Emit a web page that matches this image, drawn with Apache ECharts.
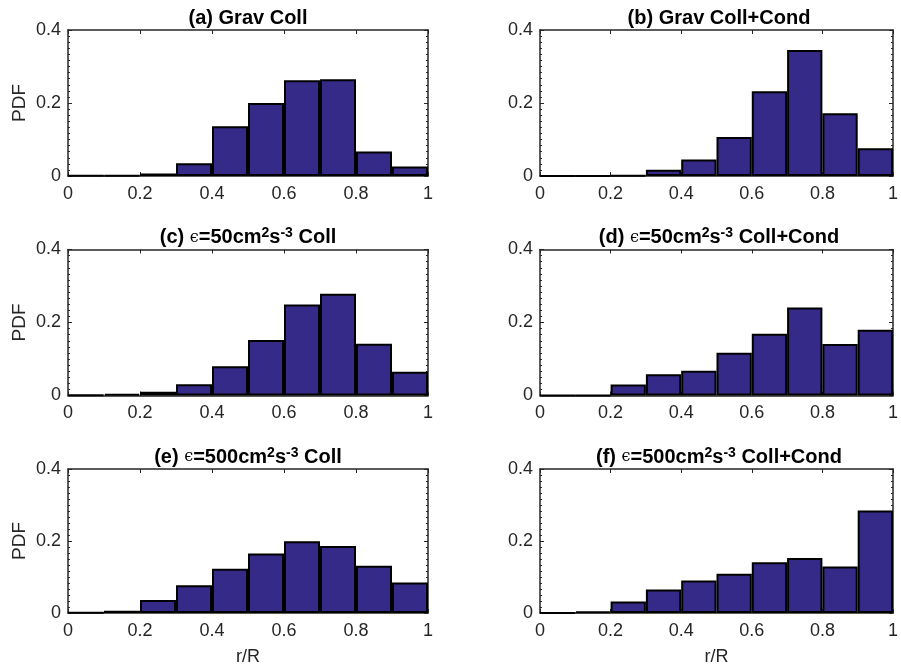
<!DOCTYPE html>
<html>
<head>
<meta charset="utf-8">
<script src="https://cdn.jsdelivr.net/npm/echarts@6/dist/echarts.min.js"></script>
<style>
  html, body { margin: 0; padding: 0; background: #fff; }
  #chart { width: 901px; height: 667px; }
</style>
</head>
<body>
<div id="chart"></div>
<script>
// r/R bins, width 0.1
const bins = ['0-0.1', '0.1-0.2', '0.2-0.3', '0.3-0.4', '0.4-0.5',
              '0.5-0.6', '0.6-0.7', '0.7-0.8', '0.8-0.9', '0.9-1'];

// PDF values
const gravColl      = [0.001, 0.002, 0.007, 0.035, 0.136, 0.200, 0.262, 0.265, 0.067, 0.026];
const gravCollCond  = [0, 0, 0.002, 0.017, 0.045, 0.107, 0.232, 0.345, 0.172, 0.076];
const eps50Coll     = [0.002, 0.004, 0.010, 0.031, 0.080, 0.152, 0.249, 0.279, 0.142, 0.065];
const eps50CollCond = [0, 0, 0.030, 0.058, 0.068, 0.117, 0.169, 0.241, 0.141, 0.180];
const eps500Coll    = [0.001, 0.006, 0.036, 0.077, 0.123, 0.165, 0.199, 0.186, 0.131, 0.085];
const eps500CollCond= [0, 0.004, 0.032, 0.065, 0.090, 0.109, 0.141, 0.153, 0.129, 0.285];

const titles = [
  '(a) Grav Coll',
  '(b) Grav Coll+Cond',
  '(c) {e|\u03f5}=50cm{s|2}s{s|-3} Coll',
  '(d) {e|\u03f5}=50cm{s|2}s{s|-3} Coll+Cond',
  '(e) {e|\u03f5}=500cm{s|2}s{s|-3} Coll',
  '(f) {e|\u03f5}=500cm{s|2}s{s|-3} Coll+Cond'
];
const panels = [gravColl, gravCollCond, eps50Coll, eps50CollCond, eps500Coll, eps500CollCond];

const colLeft = [68, 540];
const colWidth = [360, 358];
const rowTop = [30, 249.5, 469];
const rowHeight = [146, 146, 145];

const axisColor = '#262626';
const barColor = '#352a87';
const font = 'Liberation Sans, Arial, Helvetica, sans-serif';

const grid = [], xAxis = [], yAxis = [], series = [], title = [];

panels.forEach(function (vals, i) {
  const col = i % 2, row = Math.floor(i / 2);
  grid.push({ left: colLeft[col], top: rowTop[row], width: colWidth[col], height: rowHeight[row] });

  // hidden category axis carrying the bins
  xAxis.push({ gridIndex: i, type: 'category', data: bins, show: false, boundaryGap: true });
  // visible r/R value axis (bottom)
  xAxis.push({
    gridIndex: i, type: 'value', min: 0, max: 1, interval: 0.2, position: 'bottom',
    axisLine: { onZero: false, lineStyle: { color: axisColor, width: 1.5 } },
    axisTick: { inside: true, length: 4, lineStyle: { color: axisColor } },
    axisLabel: { color: axisColor, fontSize: 18, fontFamily: font, margin: 9 },
    splitLine: { show: false },
    name: row === 2 ? 'r/R' : '',
    nameLocation: 'middle', nameGap: 35,
    nameTextStyle: { color: axisColor, fontSize: 18, fontFamily: font }
  });
  // top mirror
  xAxis.push({
    gridIndex: i, type: 'value', min: 0, max: 1, interval: 0.2, position: 'top',
    axisLine: { onZero: false, lineStyle: { color: axisColor, width: 1.5 } },
    axisTick: { inside: true, length: 4, lineStyle: { color: axisColor } },
    axisLabel: { show: false }, splitLine: { show: false }
  });

  yAxis.push({
    gridIndex: i, type: 'value', min: 0, max: 0.4, interval: 0.2, position: 'left',
    axisLine: { show: true, onZero: false, lineStyle: { color: axisColor, width: 1.5 } },
    axisTick: { show: true, inside: true, length: 4, lineStyle: { color: axisColor } },
    minorTick: { show: true, splitNumber: 12, length: 2, lineStyle: { color: axisColor } },
    axisLabel: { color: axisColor, fontSize: 18, fontFamily: font, margin: 7 },
    splitLine: { show: false },
    name: col === 0 ? 'PDF' : '',
    nameLocation: 'middle', nameGap: 39, nameRotate: 90,
    nameTextStyle: { color: axisColor, fontSize: 19, fontFamily: font }
  });
  yAxis.push({
    gridIndex: i, type: 'value', min: 0, max: 0.4, interval: 0.2, position: 'right',
    axisLine: { show: true, onZero: false, lineStyle: { color: axisColor, width: 1.5 } },
    axisTick: { show: true, inside: true, length: 4, lineStyle: { color: axisColor } },
    minorTick: { show: true, splitNumber: 12, length: 2, lineStyle: { color: axisColor } },
    axisLabel: { show: false }, splitLine: { show: false }
  });

  series.push({
    type: 'bar', xAxisIndex: i * 3, yAxisIndex: i * 2, data: vals,
    barCategoryGap: '0%',
    itemStyle: { color: barColor, borderColor: '#000', borderWidth: 2 },
    silent: true
  });

  title.push({
    text: titles[i],
    left: colLeft[col] + colWidth[col] / 2, top: rowTop[row] - 23,
    textAlign: 'center', padding: 0,
    textStyle: {
      fontSize: 20, fontWeight: 'bold', color: '#000', fontFamily: font, lineHeight: 22,
      rich: {
        e: { fontSize: 16, fontWeight: 'normal', fontFamily: 'DejaVu Serif', color: '#000', lineHeight: 22 },
        s: { fontSize: 14, fontWeight: 'bold', fontFamily: font, color: '#000', verticalAlign: 'top', lineHeight: 13 }
      }
    }
  });
});

const chart = echarts.init(document.getElementById('chart'));
chart.setOption({
  animation: false,
  backgroundColor: '#fff',
  title: title,
  grid: grid,
  xAxis: xAxis,
  yAxis: yAxis,
  series: series
});
</script>
</body>
</html>
